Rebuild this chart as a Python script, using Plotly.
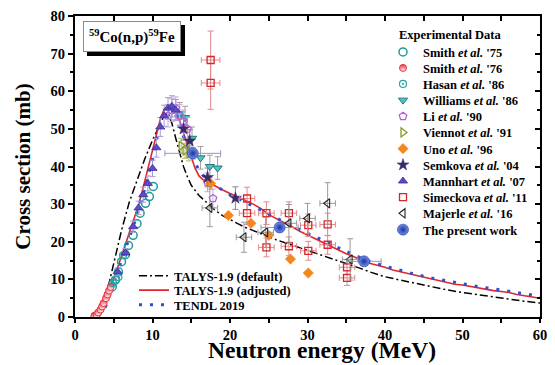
import plotly.graph_objects as go

# ---------------- model calculations ----------------
talys_def_e = [3.0, 3.5, 4.0, 4.5, 5.0, 6.0, 7.0, 8.0, 9.0, 10.0, 11.0, 11.5, 12.0, 12.5, 13.0,
               13.5, 14.0, 14.5, 15.0, 16.0, 17.0, 18.0, 19.0, 20.0, 21.0, 22.0, 23.0, 24.0,
               25.0, 26.0, 27.0, 28.0, 29.0, 30.0, 31.0, 32.0, 33.0, 34.0, 35.0, 36.0, 37.0,
               38.0, 39.0, 40.0, 42.0, 44.0, 46.0, 48.0, 50.0, 52.0, 54.0, 56.0, 58.0, 60.0]
talys_def_xs = [0.0, 2.0, 5.5, 10.0, 14.0, 23.0, 30.5, 36.5, 42.0, 47.0, 51.5, 53.5, 54.3, 51.5, 47.5,
                43.5, 40.0, 37.3, 35.0, 32.3, 30.3, 28.5, 27.0, 25.8, 24.8, 23.8, 22.9, 22.1,
                21.3, 20.5, 19.8, 19.1, 18.4, 17.7, 17.0, 16.3, 15.7, 15.0, 14.4, 13.6, 12.8,
                12.0, 11.3, 10.7, 9.8, 8.9, 8.0, 7.2, 6.5, 5.9, 5.3, 4.8, 4.2, 3.7]

talys_adj_e = [2.5, 3.0, 3.5, 4.0, 4.5, 5.0, 5.5, 6.0, 6.5, 7.0, 7.5, 8.0, 8.5, 9.0, 9.5, 10.0,
               10.5, 11.0, 11.5, 12.0, 12.5, 13.0, 13.5, 14.0, 14.5, 15.0, 15.5, 16.0, 16.5,
               17.0, 18.0, 19.0, 20.0, 21.0, 22.0, 23.0, 24.0, 25.0, 26.0, 27.0, 28.0, 29.0,
               30.0, 31.0, 32.0, 33.0, 34.0, 35.0, 36.0, 37.0, 38.0, 39.0, 40.0, 41.0, 42.0,
               43.0, 44.0, 45.0, 46.0, 47.0, 48.0, 49.0, 50.0, 51.0, 52.0, 53.0, 54.0, 55.0,
               56.0, 57.0, 58.0, 59.0, 60.0]
talys_adj_xs = [0.0, 0.4, 1.6, 4.0, 7.0, 10.0, 13.0, 16.0, 19.0, 22.0, 25.0, 28.5, 32.0, 36.0, 40.0, 44.0,
                48.5, 52.5, 55.2, 56.0, 55.2, 54.0, 52.0, 49.0, 45.5, 42.5, 39.5, 37.5, 36.5,
                36.0, 34.8, 33.8, 32.8, 32.0, 31.0, 30.0, 28.8, 27.2, 26.2, 25.0, 24.0, 22.8,
                21.8, 20.6, 19.6, 18.6, 17.8, 16.8, 16.0, 15.0, 14.3, 13.8, 13.2, 12.5, 12.0,
                11.5, 11.0, 10.5, 10.0, 9.6, 9.2, 8.7, 8.5, 8.1, 7.6, 7.3, 7.0, 6.8,
                6.5, 6.0, 5.6, 5.3, 5.0]

tendl_e = [3.0, 3.5, 4.0, 4.5, 5.0, 5.5, 6.0, 7.0, 8.0, 9.0, 10.0, 10.5, 11.0, 11.5, 12.0, 12.5,
           13.0, 13.5, 14.0, 15.0, 16.0, 17.0, 18.0, 19.0, 20.0, 22.0, 24.0, 26.0, 28.0, 30.0,
           32.0, 34.0, 36.0, 38.0, 40.0, 42.0, 44.0, 46.0, 48.0, 50.0, 52.0, 54.0, 56.0, 58.0, 60.0]
tendl_xs = [0.3, 1.2, 3.0, 6.0, 9.0, 12.0, 15.0, 21.0, 27.0, 34.0, 42.0, 47.0, 51.5, 54.5, 55.5, 55.0,
            53.5, 51.0, 48.0, 43.0, 39.0, 36.5, 35.0, 33.8, 32.5, 30.5, 28.5, 26.3, 24.2, 22.2,
            20.2, 18.4, 16.5, 14.8, 13.5, 12.3, 11.3, 10.4, 9.6, 8.9, 8.1, 7.5, 6.9, 6.2, 5.5]

# ---------------- experimental data ----------------
smith75_e = [4.8, 5.2, 5.6, 6.0, 6.5, 6.9, 7.5, 8.0, 8.4, 9.1, 9.6, 10.1]
smith75_xs = [8.0, 9.8, 12.0, 14.7, 16.6, 19.0, 21.7, 24.8, 27.6, 30.2, 32.0, 34.7]

smith76_e = [2.5, 2.8, 3.0, 3.3, 3.5, 3.7, 4.0, 4.2, 4.4, 4.6]
smith76_xs = [0.3, 0.6, 1.2, 2.0, 2.8, 3.7, 5.0, 6.0, 7.0, 8.0]

hasan86_e = [4.9, 5.3, 5.6, 6.2]
hasan86_xs = [9.0, 10.0, 10.6, 16.4]

williams86_e = [13.5, 14.2, 15.1, 16.2, 17.4, 18.4]
williams86_xs = [54.0, 53.0, 47.5, 42.3, 40.0, 39.6]
williams86_err = [3.0, 3.0, 3.0, 3.0, 3.0, 3.0]

li90_e = [12.0, 12.5, 13.0, 13.5, 14.0, 14.5, 17.1, 17.8]
li90_xs = [53.5, 55.0, 55.5, 53.5, 52.0, 50.0, 35.8, 31.5]
li90_err = [3.0, 3.0, 3.0, 3.0, 3.0, 3.0, 2.5, 2.5]

viennot91_e = [13.7, 14.2, 14.7]
viennot91_xs = [45.5, 44.2, 43.5]
viennot91_err = [2.0, 2.0, 2.0]

uno96_e = [17.5, 19.8, 22.7, 25.0, 27.8, 30.1]
uno96_xs = [35.5, 27.0, 24.9, 21.7, 15.4, 11.7]

semkova04_e = [14.0, 14.8, 17.1, 20.7]
semkova04_xs = [50.0, 46.8, 37.1, 31.6]
semkova04_err = [3.0, 3.0, 2.5, 3.0]

mannhart07_e = [5.5, 6.5, 7.5, 8.2, 8.8, 9.4, 10.0, 10.5, 11.0, 11.5, 12.0, 12.5, 13.0]
mannhart07_xs = [12.0, 17.0, 24.0, 29.0, 32.5, 35.5, 39.5, 45.0, 50.5, 53.5, 55.5, 56.0, 55.0]
mannhart07_err = [1.0, 1.2, 1.5, 1.8, 2.0, 2.0, 2.2, 2.5, 2.5, 2.8, 2.8, 2.8, 2.8]

simeckova11_e = [17.5, 17.5, 22.2, 22.2, 24.7, 24.7, 27.6, 27.6, 30.1, 30.1, 32.6, 32.6, 35.1, 35.1]
simeckova11_xs = [68.3, 62.2, 31.5, 27.6, 27.6, 18.5, 27.6, 18.8, 24.4, 17.6, 24.6, 19.2, 13.2, 10.4]
simeckova11_err = [7.7, 7.0, 3.0, 3.0, 3.0, 2.5, 3.0, 2.5, 3.0, 2.5, 3.0, 2.5, 2.0, 2.0]
simeckova11_eerr = [1.2, 1.2, 1.0, 1.0, 1.0, 1.0, 1.0, 1.0, 1.0, 1.0, 1.0, 1.0, 1.0, 1.0]

majerle16_e = [17.4, 21.8, 24.6, 27.6, 30.0, 32.6, 35.5]
majerle16_xs = [29.0, 21.2, 22.5, 24.9, 26.2, 30.2, 15.3]
majerle16_err = [5.0, 4.0, 4.0, 5.0, 4.0, 5.5, 5.5]
majerle16_eerr = [1.0, 1.0, 1.0, 1.0, 1.0, 1.0, 1.0]

present_e = [15.2, 26.4, 37.3]
present_xs = [43.5, 23.8, 14.8]
present_err = [1.5, 1.2, 1.0]
present_eerr = [3.6, 2.4, 2.2]

SERIF = "Liberation Serif, Times New Roman, serif"

fig = go.Figure()

# plot-area geometry in pixels (used to place legends and labels)
W, H = 555, 365
ML, MR, MT, MB = 75, 15, 16, 48
PW, PH = W - ML - MR, H - MT - MB


def px_x(x):
    return (x - ML) / PW


def px_y(y):
    return (H - MB - y) / PH


# model curves
fig.add_trace(go.Scatter(x=talys_def_e, y=talys_def_xs, mode="lines", name="TALYS-1.9 (default)",
                         line=dict(color="black", width=1.5, dash="8px,3px,2px,3px"), legend="legend13"))
fig.add_trace(go.Scatter(x=talys_adj_e, y=talys_adj_xs, mode="lines", name="TALYS-1.9 (adjusted)",
                         line=dict(color="#e0262a", width=1.6), legend="legend14"))
fig.add_trace(go.Scatter(x=tendl_e, y=tendl_xs, mode="lines", name="TENDL 2019",
                         line=dict(color="#2c4fd4", width=3, dash="3px,8px"), legend="legend15"))


def add_exp(name, e, xs, legend, symbol, color, size=7, line_color=None, line_width=1.2,
            err=None, eerr=None, err_color="#999999", gradient=None):
    mk = dict(symbol=symbol, size=size, color=color,
              line=dict(color=line_color or color, width=line_width))
    if gradient:
        mk["gradient"] = gradient
    kw = {}
    if err is not None:
        kw["error_y"] = dict(type="data", array=err, visible=True, color=err_color, thickness=1, width=3)
    if eerr is not None:
        kw["error_x"] = dict(type="data", array=eerr, visible=True, color=err_color, thickness=1, width=3)
    fig.add_trace(go.Scatter(x=e, y=xs, mode="markers", name=name, marker=mk, legend=legend, **kw))


add_exp("Smith <i>et al.</i> '75", smith75_e, smith75_xs, "legend", "circle-open", "#1f9a9c",
        size=8, line_width=1.5)
add_exp("Smith <i>et al.</i> '76", smith76_e, smith76_xs, "legend2", "circle", "#e8303a", size=7,
        line_color="#e8303a", line_width=1,
        gradient=dict(type="vertical", color="white"))
add_exp("Hasan <i>et al.</i> '86", hasan86_e, hasan86_xs, "legend3", "circle-open-dot", "#2aa3a5",
        size=7, line_width=1.2)
add_exp("Williams <i>et al.</i> '86", williams86_e, williams86_xs, "legend4", "triangle-down", "#4cc4cc",
        size=8, line_color="#23787e", line_width=1, err=williams86_err, err_color="#a0a0a0")
add_exp("Li <i>et al.</i> '90", li90_e, li90_xs, "legend5", "pentagon-open", "#b85fd8",
        size=8, line_width=1.3, err=li90_err, err_color="#c8a8e0")
add_exp("Viennot <i>et al.</i> '91", viennot91_e, viennot91_xs, "legend6", "triangle-right-open", "#8a9a22",
        size=8, line_width=1.3, err=viennot91_err, err_color="#b0b870")
add_exp("Uno <i>et al.</i> '96", uno96_e, uno96_xs, "legend7", "diamond", "#f3861c",
        size=8, line_width=0.5)
add_exp("Semkova <i>et al.</i> '04", semkova04_e, semkova04_xs, "legend8", "star", "#3a2a6a",
        size=9, line_width=0.5, err=semkova04_err, err_color="#888888")
add_exp("Mannhart <i>et al.</i> '07", mannhart07_e, mannhart07_xs, "legend9", "triangle-up", "#5a4cc8",
        size=8, line_color="#3a2e9a", line_width=0.8, err=mannhart07_err, err_color="#a89ad8")
add_exp("Simeckova <i>et al.</i> '11", simeckova11_e, simeckova11_xs, "legend10", "square-open", "#d8262c",
        size=7, line_width=1.3, err=simeckova11_err, eerr=simeckova11_eerr, err_color="#e08a8a")
add_exp("Majerle <i>et al.</i> '16", majerle16_e, majerle16_xs, "legend11", "triangle-left-open", "#222222",
        size=8, line_width=1.1, err=majerle16_err, eerr=majerle16_eerr, err_color="#9a9a9a")
add_exp("The present work", present_e, present_xs, "legend12", "circle", "#6f8ff0", size=11,
        line_color="#1d3399", line_width=0.6, err=present_err, eerr=present_eerr, err_color="#8e9ac0",
        gradient=dict(type="radial", color="#1d3399"))

# helper trace so the mirrored (top/right) axes are drawn
fig.add_trace(go.Scatter(x=[None], y=[None], xaxis="x2", yaxis="y2", showlegend=False,
                         hoverinfo="skip"))

# one legend per entry so the rows can be spaced tightly
legend_font = dict(family=SERIF, size=12.5, color="black", weight="bold")
exp_rows = [52.3, 68.3, 84.3, 100.5, 116.7, 132.8, 149.0, 165.2, 181.4, 197.5, 213.7, 230.0]
legend_names = ["legend"] + ["legend%d" % i for i in range(2, 13)]
legends = {}
for nm, row in zip(legend_names, exp_rows):
    legends[nm] = dict(x=px_x(383), y=px_y(row), xanchor="left", yanchor="middle",
                       bgcolor="rgba(0,0,0,0)", borderwidth=0, font=legend_font,
                       itemwidth=30, tracegroupgap=0)
model_rows = [276.0, 290.5, 305.0]
for i, row in zip([13, 14, 15], model_rows):
    legends["legend%d" % i] = dict(x=px_x(134), y=px_y(row), xanchor="left", yanchor="middle",
                                   bgcolor="rgba(0,0,0,0)", borderwidth=0, font=legend_font,
                                   itemwidth=30)

tick_font = dict(family=SERIF, size=14.5, color="black", weight="bold")
axis_common = dict(showline=True, linecolor="black", linewidth=2, showgrid=False, zeroline=False,
                   tickcolor="black", tickwidth=1.5, tickfont=tick_font, automargin=False)

fig.update_layout(
    width=W, height=H,
    margin=dict(l=ML, r=MR, t=MT, b=MB),
    paper_bgcolor="white", plot_bgcolor="white",
    showlegend=True,
    xaxis=dict(range=[0, 60], dtick=10, ticks="outside", ticklen=4,
               minor=dict(dtick=5, ticks="outside", ticklen=4, tickcolor="black", tickwidth=1.5),
               **axis_common),
    yaxis=dict(range=[0, 80], dtick=10, ticks="outside", ticklen=5,
               minor=dict(dtick=5, ticks="outside", ticklen=3, tickcolor="black", tickwidth=1.5),
               title=dict(text="Cross section (mb)", standoff=14,
                          font=dict(family=SERIF, size=21, color="black", weight="bold")),
               **axis_common),
    xaxis2=dict(overlaying="x", side="top", range=[0, 60], dtick=10, ticks="inside", ticklen=5,
                showticklabels=False, showline=True, linecolor="black", linewidth=2,
                showgrid=False, zeroline=False, tickcolor="black", tickwidth=1.5, automargin=False,
                minor=dict(dtick=5, ticks="inside", ticklen=5, tickcolor="black", tickwidth=1.5)),
    yaxis2=dict(overlaying="y", side="right", range=[0, 80], dtick=10, ticks="inside", ticklen=5,
                showticklabels=False, showline=True, linecolor="black", linewidth=2,
                showgrid=False, zeroline=False, tickcolor="black", tickwidth=1.5, automargin=False,
                minor=dict(dtick=5, ticks="inside", ticklen=3, tickcolor="black", tickwidth=1.5)),
    **legends,
)

# x-axis title
fig.add_annotation(x=px_x(322), y=px_y(364), xref="paper", yref="paper",
                   xanchor="center", yanchor="bottom", showarrow=False,
                   text="Neutron energy (MeV)", borderpad=0,
                   font=dict(family=SERIF, size=23.5, color="black", weight="bold"))

# reaction label with a drop shadow
label = "<sup>59</sup>Co(n,p)<sup>59</sup>Fe"
label_font = dict(family=SERIF, size=15, color="black", weight="bold")
for shadow in (True, False):
    fig.add_annotation(x=px_x(132), y=px_y(36), xref="paper", yref="paper", text=label,
                       xanchor="center", yanchor="middle", showarrow=False, font=label_font,
                       bgcolor="black" if shadow else "white",
                       bordercolor="black" if shadow else "#8a8a8a",
                       borderwidth=1, borderpad=5,
                       xshift=4 if shadow else 0, yshift=-4 if shadow else 0)

# legend heading
fig.add_annotation(x=px_x(450), y=px_y(35), xref="paper", yref="paper",
                   xanchor="center", yanchor="middle",
                   text="Experimental Data", showarrow=False,
                   font=dict(family=SERIF, size=12.5, color="black", weight="bold"))

fig.write_html("out.html")
